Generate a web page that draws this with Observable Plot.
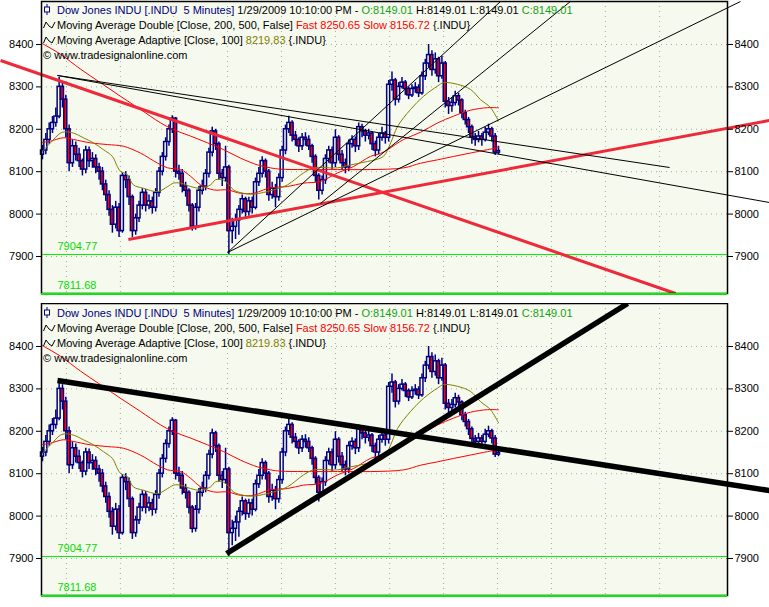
<!DOCTYPE html>
<html><head><meta charset="utf-8">
<script src="https://cdn.jsdelivr.net/npm/d3@7"></script>
<script src="https://cdn.jsdelivr.net/npm/@observablehq/plot@0.6"></script>
<style>
html,body{margin:0;padding:0;background:#fff;overflow:hidden;}
.panel{position:relative;width:769px;}
.panel > svg{display:block;}
.legend{position:absolute;left:43px;font-family:"Liberation Sans",Arial,sans-serif;font-size:11px;line-height:15px;white-space:nowrap;color:#000;}
.legend div{height:15px;}
.navy{color:#000080}.grn{color:#12a312}.red{color:#ff0000}.olv{color:#808000}
.ico{display:inline-block;width:14px;height:11px;vertical-align:-1px;}
</style></head><body><div id="chart"></div>
<script>
// ---- data ----
const firstOpen = 8140;
const close = [8150,8175,8200,8215,8230,8300,8270,8200,8120,8160,
8140,8125,8105,8150,8125,8130,8110,8100,8070,8045,
8010,7975,8015,7960,8090,8080,8040,7960,7990,8020,
8050,8020,8030,8015,8050,8100,8135,8170,8200,8225,
8100,8095,8065,8055,8020,7970,8015,8055,8065,8095,
8145,8195,8165,8095,8085,8110,7960,7970,7985,8010,
8035,8005,8030,8015,8075,8095,8125,8100,8045,8060,
8040,8085,8150,8200,8215,8185,8175,8160,8180,8175,
8160,8135,8090,8055,8080,8130,8150,8120,8180,8140,
8120,8110,8165,8175,8160,8205,8195,8185,8190,8165,
8150,8180,8190,8180,8305,8315,8270,8300,8310,8295,
8280,8295,8298,8285,8325,8355,8375,8340,8365,8325,
8355,8265,8255,8262,8278,8268,8238,8222,8205,8182,
8175,8183,8175,8192,8200,8183,8145,8149];
const high = [8162,8190,8215,8230,8250,8322,8310,8280,8210,8175,
8170,8155,8130,8160,8158,8145,8140,8120,8110,8080,
8055,8020,8030,8025,8098,8100,8090,8045,8000,8030,
8060,8058,8045,8040,8060,8110,8145,8180,8210,8232,
8228,8115,8105,8075,8060,8025,8025,8065,8080,8105,
8155,8205,8200,8170,8105,8160,8115,7990,8000,8020,
8045,8040,8040,8040,8085,8110,8135,8130,8105,8075,
8070,8095,8160,8210,8231,8220,8195,8180,8190,8192,
8185,8165,8140,8095,8090,8140,8160,8158,8199,8185,
8150,8130,8175,8185,8182,8215,8212,8200,8200,8195,
8172,8190,8205,8195,8315,8335,8320,8310,8322,8315,
8300,8305,8310,8305,8335,8365,8400,8385,8380,8370,
8372,8360,8275,8275,8290,8285,8272,8245,8228,8210,
8190,8195,8190,8205,8212,8205,8190,8160];
const low = [8128,8140,8165,8190,8205,8225,8250,8180,8100,8110,
8125,8110,8090,8095,8110,8108,8095,8080,8055,8030,
7995,7955,7965,7945,7955,8060,8020,7945,7950,7980,
8010,8005,8010,8000,8005,8040,8090,8125,8160,8190,
8085,8080,8050,8040,8005,7960,7962,8005,8045,8055,
8085,8135,8150,8080,8065,8075,7904.77,7930,7940,7950,
8000,7990,7995,8000,8010,8065,8085,8085,8030,8035,
8015,8030,8075,8140,8190,8170,8160,8145,8150,8160,
8150,8120,8075,8033,8045,8070,8120,8105,8110,8125,
8105,8095,8100,8155,8145,8150,8180,8170,8175,8150,
8135,8140,8172,8165,8170,8290,8255,8262,8295,8280,
8270,8275,8285,8275,8280,8315,8345,8325,8330,8310,
8318,8250,8235,8240,8255,8255,8225,8210,8190,8165,
8160,8168,8160,8170,8185,8170,8138,8140];

// moving averages: bar index of each sample, and value
const fastBar = [0,2.4,6.3,9.3,14.4,19.5,24.3,29.4,34.6,37.6,41.5,44.5,47.5,51.4,55.6,59.5,63.4,66.4,68.5,73.6,78.4,83.5,88.6,93.4,98.5,101.5,103.7,108.5,113.6,118.7,123.5,128.6,133.7,137];
const fastVal = [8169,8172,8180,8176,8168,8164,8160,8144,8120,8109,8105,8089,8069,8057,8057,8049,8049,8057,8062,8065,8073,8077,8097,8112,8136,8143,8152,8176,8193,8215,8231,8245,8251,8250.65];
const slowBar = [0,5.4,11.4,17.4,23.4,29.4,35.5,39.4,44.5,49.6,54.4,59.5,64.6,68.5,71.5,78.4,88.6,98.5,108.5,113.6,118.7,123.5,128.6,133.7,137];
const slowVal = [8402,8377,8342,8310,8278,8247,8215,8199,8184,8168,8152,8132,8116,8109,8106,8105,8105,8105,8109,8120,8128,8136,8144,8152,8156.72];
const adaptBar = [0,2.4,5.4,6.9,9.3,12.3,15.3,18.3,21.0,22.5,23.4,25.5,27.3,30.3,34.6,37.6,39.4,41.5,44.5,47.5,50.5,52.0,54.1,55.6,57.4,60.4,63.4,66.4,69.4,73.6,78.4,81.4,88.6,92.5,97.6,102.4,104.6,106.7,110.6,114.5,118.7,120.5,124.7,128.6,131.6,134.6,137];
const adaptVal = [8148,8168,8191,8194,8191,8180,8168,8152,8136,8112,8101,8093,8069,8061,8053,8065,8073,8073,8065,8061,8069,8081,8081,8073,8057,8049,8047,8051,8057,8069,8097,8109,8109,8116,8124,8136,8168,8207,8247,8278,8302,8310,8306,8294,8270,8251,8219.83];

// trend lines: [startBar, startPrice, endBar, endPrice]
const topRedLines = [[-12.6, 8362.2, 190.2, 7812.7], [25.8, 7940.1, 218.4, 8220.7]];
const topBlackLines = [[4.5, 8326.9, 188.4, 8109.9], [4.5, 8326.9, 218.4, 8027.3],
  [55.6, 7909.4, 137.6, 8501.4], [83.5, 8025.0, 158.6, 8501.4], [55.6, 7909.4, 209.7, 8501.4]];
const bottomBlackLines = [[4.5, 8319.8, 218.4, 8060.3], [55.3, 7911.8, 175.8, 8501.4]];

const yTicks = [7900, 8000, 8100, 8200, 8300, 8400];
const gridBars = [7.2, 23.4, 39.4, 55.6, 71.8, 88.0, 104.3, 120.5, 136.7, 152.9, 169.1, 185.4];
const levels = [7904.77, 7811.68];

// ---- drawing ----
const BG = "#f6f9ee", NAVY = "#000080", RED = "#ff0000", OLIVE = "#808000", LIME = "#00ee00";
const bars = close.map((c, i) => ({i, open: i ? close[i - 1] : firstOpen, close: c, high: high[i], low: low[i]}));
const series = (b, v) => b.map((x, k) => ({x, y: v[k]}));
const fast = series(fastBar, fastVal), slow = series(slowBar, slowVal), adapt = series(adaptBar, adaptVal);

function panel({height, marginTop, marginBottom, red, black, blackWidth}) {
  return Plot.plot({
    width: 769, height, marginLeft: 41, marginRight: 42, marginTop, marginBottom,
    x: {domain: [-0.3, 205.8], axis: null},
    y: {domain: [7812.7, 8501.4], axis: null},
    style: {fontFamily: "Liberation Sans, Arial, sans-serif", fontSize: "11px", background: "white", color: "black"},
    marks: [
      Plot.frame({fill: BG, stroke: null}),
      Plot.ruleY(yTicks, {stroke: "#a8aaa0", strokeDasharray: "1,4"}),
      Plot.ruleX(gridBars, {stroke: "#a8aaa0", strokeDasharray: "1,4"}),
      Plot.ruleY([levels[0]], {stroke: LIME, strokeWidth: 1}),
      Plot.text(levels, {y: d => d, text: d => d.toFixed(2), frameAnchor: "left", dx: 16, dy: -8, textAnchor: "start", fill: "#00dd00", fontSize: 11}),
      Plot.ruleX(bars, {x: "i", y1: "low", y2: "high", stroke: NAVY, strokeWidth: 1.5}),
      Plot.rect(bars, {x1: d => d.i - 0.45, x2: d => d.i + 0.45, y1: "open", y2: "close",
        fill: d => d.close < d.open ? RED : BG, stroke: NAVY, strokeWidth: 1.5}),
      Plot.line(slow, {x: "x", y: "y", stroke: RED, strokeWidth: 1, curve: "catmull-rom"}),
      Plot.line(fast, {x: "x", y: "y", stroke: RED, strokeWidth: 1, curve: "catmull-rom"}),
      Plot.line(adapt, {x: "x", y: "y", stroke: OLIVE, strokeWidth: 1, curve: "catmull-rom"}),
      Plot.link(red, {x1: d => d[0], y1: d => d[1], x2: d => d[2], y2: d => d[3], stroke: "#ee2a3a", strokeWidth: 3}),
      Plot.link(black, {x1: d => d[0], y1: d => d[1], x2: d => d[2], y2: d => d[3], stroke: "#000", strokeWidth: blackWidth}),
      Plot.frame({stroke: "#000", strokeWidth: 1.5}),
      Plot.ruleY([levels[1]], {stroke: LIME, strokeWidth: 2}),
      Plot.axisY({ticks: yTicks, anchor: "left", tickSize: 5, tickPadding: 3, tickFormat: d => String(d), label: null, fontSize: 11}),
      Plot.axisY({ticks: yTicks, anchor: "right", tickSize: 5, tickPadding: 2, tickFormat: d => String(d), label: null, fontSize: 11})
    ]
  });
}

const candleIcon = '<svg class="ico" width="14" height="11" viewBox="0 0 14 11"><line x1="4" y1="0" x2="4" y2="11" stroke="#000080"/><rect x="1.5" y="3" width="5" height="5" fill="#fff" stroke="#000080"/></svg>';
const waveIcon = '<svg class="ico" width="14" height="11" viewBox="0 0 14 11"><polyline points="0.5,9 3,3 6,7 9,9 12,3" fill="none" stroke="#000" stroke-width="1"/></svg>';
const legendHTML =
  '<div>' + candleIcon + '<span class="navy">Dow Jones INDU [.INDU&nbsp; 5 Minutes]</span> 1/29/2009 10:10:00 PM - <span class="grn">O:8149.01</span> H:8149.01 L:8149.01 <span class="grn">C:8149.01</span></div>' +
  '<div>' + waveIcon + 'Moving Average Double [Close, 200, 500, False] <span class="red">Fast 8250.65 Slow 8156.72</span> {.INDU}</div>' +
  '<div>' + waveIcon + 'Moving Average Adaptive [Close, 100] <span class="olv">8219.83</span> {.INDU}</div>' +
  '<div>© www.tradesignalonline.com</div>';

function addPanel(svg, legendTop) {
  const wrap = document.createElement("div");
  wrap.className = "panel";
  wrap.appendChild(svg);
  const lg = document.createElement("div");
  lg.className = "legend";
  lg.style.top = legendTop + "px";
  lg.innerHTML = legendHTML;
  wrap.appendChild(lg);
  document.getElementById("chart").appendChild(wrap);
}

addPanel(panel({height: 303, marginTop: 1, marginBottom: 10, red: topRedLines, black: topBlackLines, blackWidth: 1}), 3);
addPanel(panel({height: 304, marginTop: 0, marginBottom: 12, red: [], black: bottomBlackLines, blackWidth: 5.5}), 3);
</script></body></html>
